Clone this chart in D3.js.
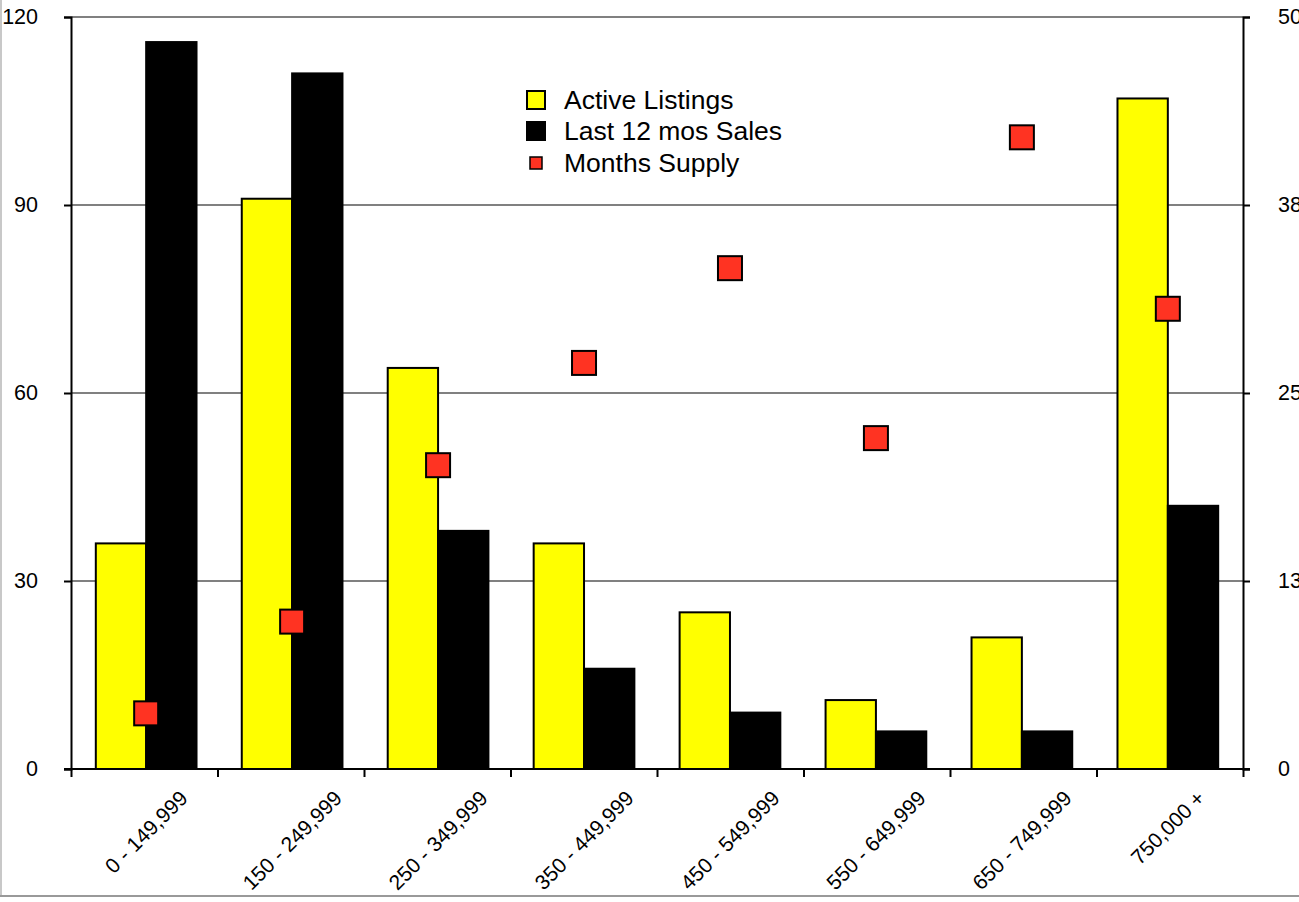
<!DOCTYPE html>
<html>
<head>
<meta charset="utf-8">
<script src="https://cdn.jsdelivr.net/npm/d3@7"></script>
<style>
  html, body { margin: 0; padding: 0; background: #fff; }
  svg { display: block; }
  text { font-family: "Liberation Sans", Arial, Helvetica, sans-serif; fill: #000; }
</style>
</head>
<body>
<svg id="chart" width="1299" height="902"></svg>
<script>
const categories = ["0 - 149,999", "150 - 249,999", "250 - 349,999", "350 - 449,999",
                    "450 - 549,999", "550 - 649,999", "650 - 749,999", "750,000 +"];
const activeListings = [36, 91, 64, 36, 25, 11, 21, 107];
const lastSales = [116, 111, 38, 16, 9, 6, 6, 42];
const monthsSupply = [3.7, 9.8, 20.2, 27.0, 33.3, 22.0, 42.0, 30.6];
const leftTicks = [0, 30, 60, 90, 120];
const rightTicks = [0, 12.5, 25, 37.5, 50];
const rightTickLabels = ["0", "13", "25", "38", "50"];
const seriesNames = ["Active Listings", "Last 12 mos Sales", "Months Supply"];

const svg = d3.select("#chart");
const pL = 71, pR = 1243, pT = 17, pB = 769;

// frame
svg.append("line").attr("x1", 1).attr("x2", 1).attr("y1", 0).attr("y2", 897)
  .attr("stroke", "#c8c8c8").attr("stroke-width", 2);
svg.append("line").attr("x1", 0).attr("x2", 1299).attr("y1", 896).attr("y2", 896)
  .attr("stroke", "#999").attr("stroke-width", 2);

const x = d3.scaleBand().domain(categories).range([pL, pR])
  .paddingInner(0.31).paddingOuter(0.17);
const xSub = d3.scaleBand().domain([0, 1]).range([0, x.bandwidth()]);
const yL = d3.scaleLinear().domain([0, 120]).range([pB, pT]);
const yR = d3.scaleLinear().domain([0, 50]).range([pB, pT]);

// gridlines
svg.append("g").selectAll("line").data(leftTicks.filter(d => d > 0)).join("line")
  .attr("x1", pL).attr("x2", pR)
  .attr("y1", d => yL(d)).attr("y2", d => yL(d))
  .attr("stroke", "#808080").attr("stroke-width", 2);

// bars
const groups = svg.append("g").selectAll("g").data(categories).join("g")
  .attr("transform", d => `translate(${x(d)},0)`);
groups.append("rect")
  .attr("x", xSub(0)).attr("width", xSub.bandwidth())
  .attr("y", (d, i) => yL(activeListings[i]))
  .attr("height", (d, i) => pB - yL(activeListings[i]))
  .attr("fill", "#ffff00").attr("stroke", "#000").attr("stroke-width", 2);
groups.append("rect")
  .attr("x", xSub(1)).attr("width", xSub.bandwidth())
  .attr("y", (d, i) => yL(lastSales[i]))
  .attr("height", (d, i) => pB - yL(lastSales[i]))
  .attr("fill", "#000").attr("stroke", "#000").attr("stroke-width", 2);

// axes
const axL = d3.axisLeft(yL).tickValues(leftTicks).tickSize(7).tickPadding(26);
const gL = svg.append("g").attr("transform", `translate(${pL},0)`).call(axL);
const axR = d3.axisRight(yR).tickValues(rightTicks).tickSize(7).tickPadding(28)
  .tickFormat((d, i) => rightTickLabels[i]);
const gR = svg.append("g").attr("transform", `translate(${pR},0)`).call(axR);
const xb = d3.scalePoint().domain(d3.range(categories.length + 1)).range([pL, pR]);
const axB = d3.axisBottom(xb).tickSize(8).tickFormat("");
const gB = svg.append("g").attr("transform", `translate(0,${pB})`).call(axB);

[gL, gR, gB].forEach(g => {
  g.select(".domain").attr("stroke", "#000").attr("stroke-width", 2);
  g.selectAll(".tick line").attr("stroke", "#000").attr("stroke-width", 2);
  g.selectAll("text").attr("font-size", 21.5).attr("font-family", '"Liberation Sans", Arial, sans-serif').attr("fill", "#000");
});
gB.select(".domain").attr("d", `M${pL - 7},0H${pR + 7}`);

// x labels
const xl = svg.append("g").selectAll("text").data(categories).join("text")
  .attr("font-size", 21).attr("text-anchor", "middle").attr("dy", "0.35em")
  .text(d => d);
xl.each(function(d) {
  const w = this.getComputedTextLength();
  const cx = x(d) + x.bandwidth() / 2;
  const cy = 789 + (w + 15) * Math.SQRT1_2 / 2;
  d3.select(this).attr("transform", `translate(${cx},${cy}) rotate(-45)`);
});

// months supply markers
const ms = 24;
svg.append("g").selectAll("rect").data(categories).join("rect")
  .attr("x", d => x(d) + x.bandwidth() / 2 - ms / 2)
  .attr("y", (d, i) => yR(monthsSupply[i]) - ms / 2)
  .attr("width", ms).attr("height", ms)
  .attr("fill", "#ff3322").attr("stroke", "#000").attr("stroke-width", 2);

// legend
const lg = svg.append("g");
const rows = [100, 131, 163];
lg.append("rect").attr("x", 527).attr("y", rows[0] - 9).attr("width", 18).attr("height", 18)
  .attr("fill", "#ffff00").attr("stroke", "#000").attr("stroke-width", 2);
lg.append("rect").attr("x", 527).attr("y", rows[1] - 9).attr("width", 18).attr("height", 18)
  .attr("fill", "#000").attr("stroke", "#000").attr("stroke-width", 2);
lg.append("rect").attr("x", 530).attr("y", rows[2] - 6).attr("width", 12).attr("height", 12)
  .attr("fill", "#ff3322").attr("stroke", "#000").attr("stroke-width", 1.5);
lg.selectAll("text").data(seriesNames).join("text")
  .attr("x", 564).attr("y", (d, i) => rows[i]).attr("dy", "0.35em")
  .attr("font-size", 26.5).text(d => d);
</script>
</body>
</html>
